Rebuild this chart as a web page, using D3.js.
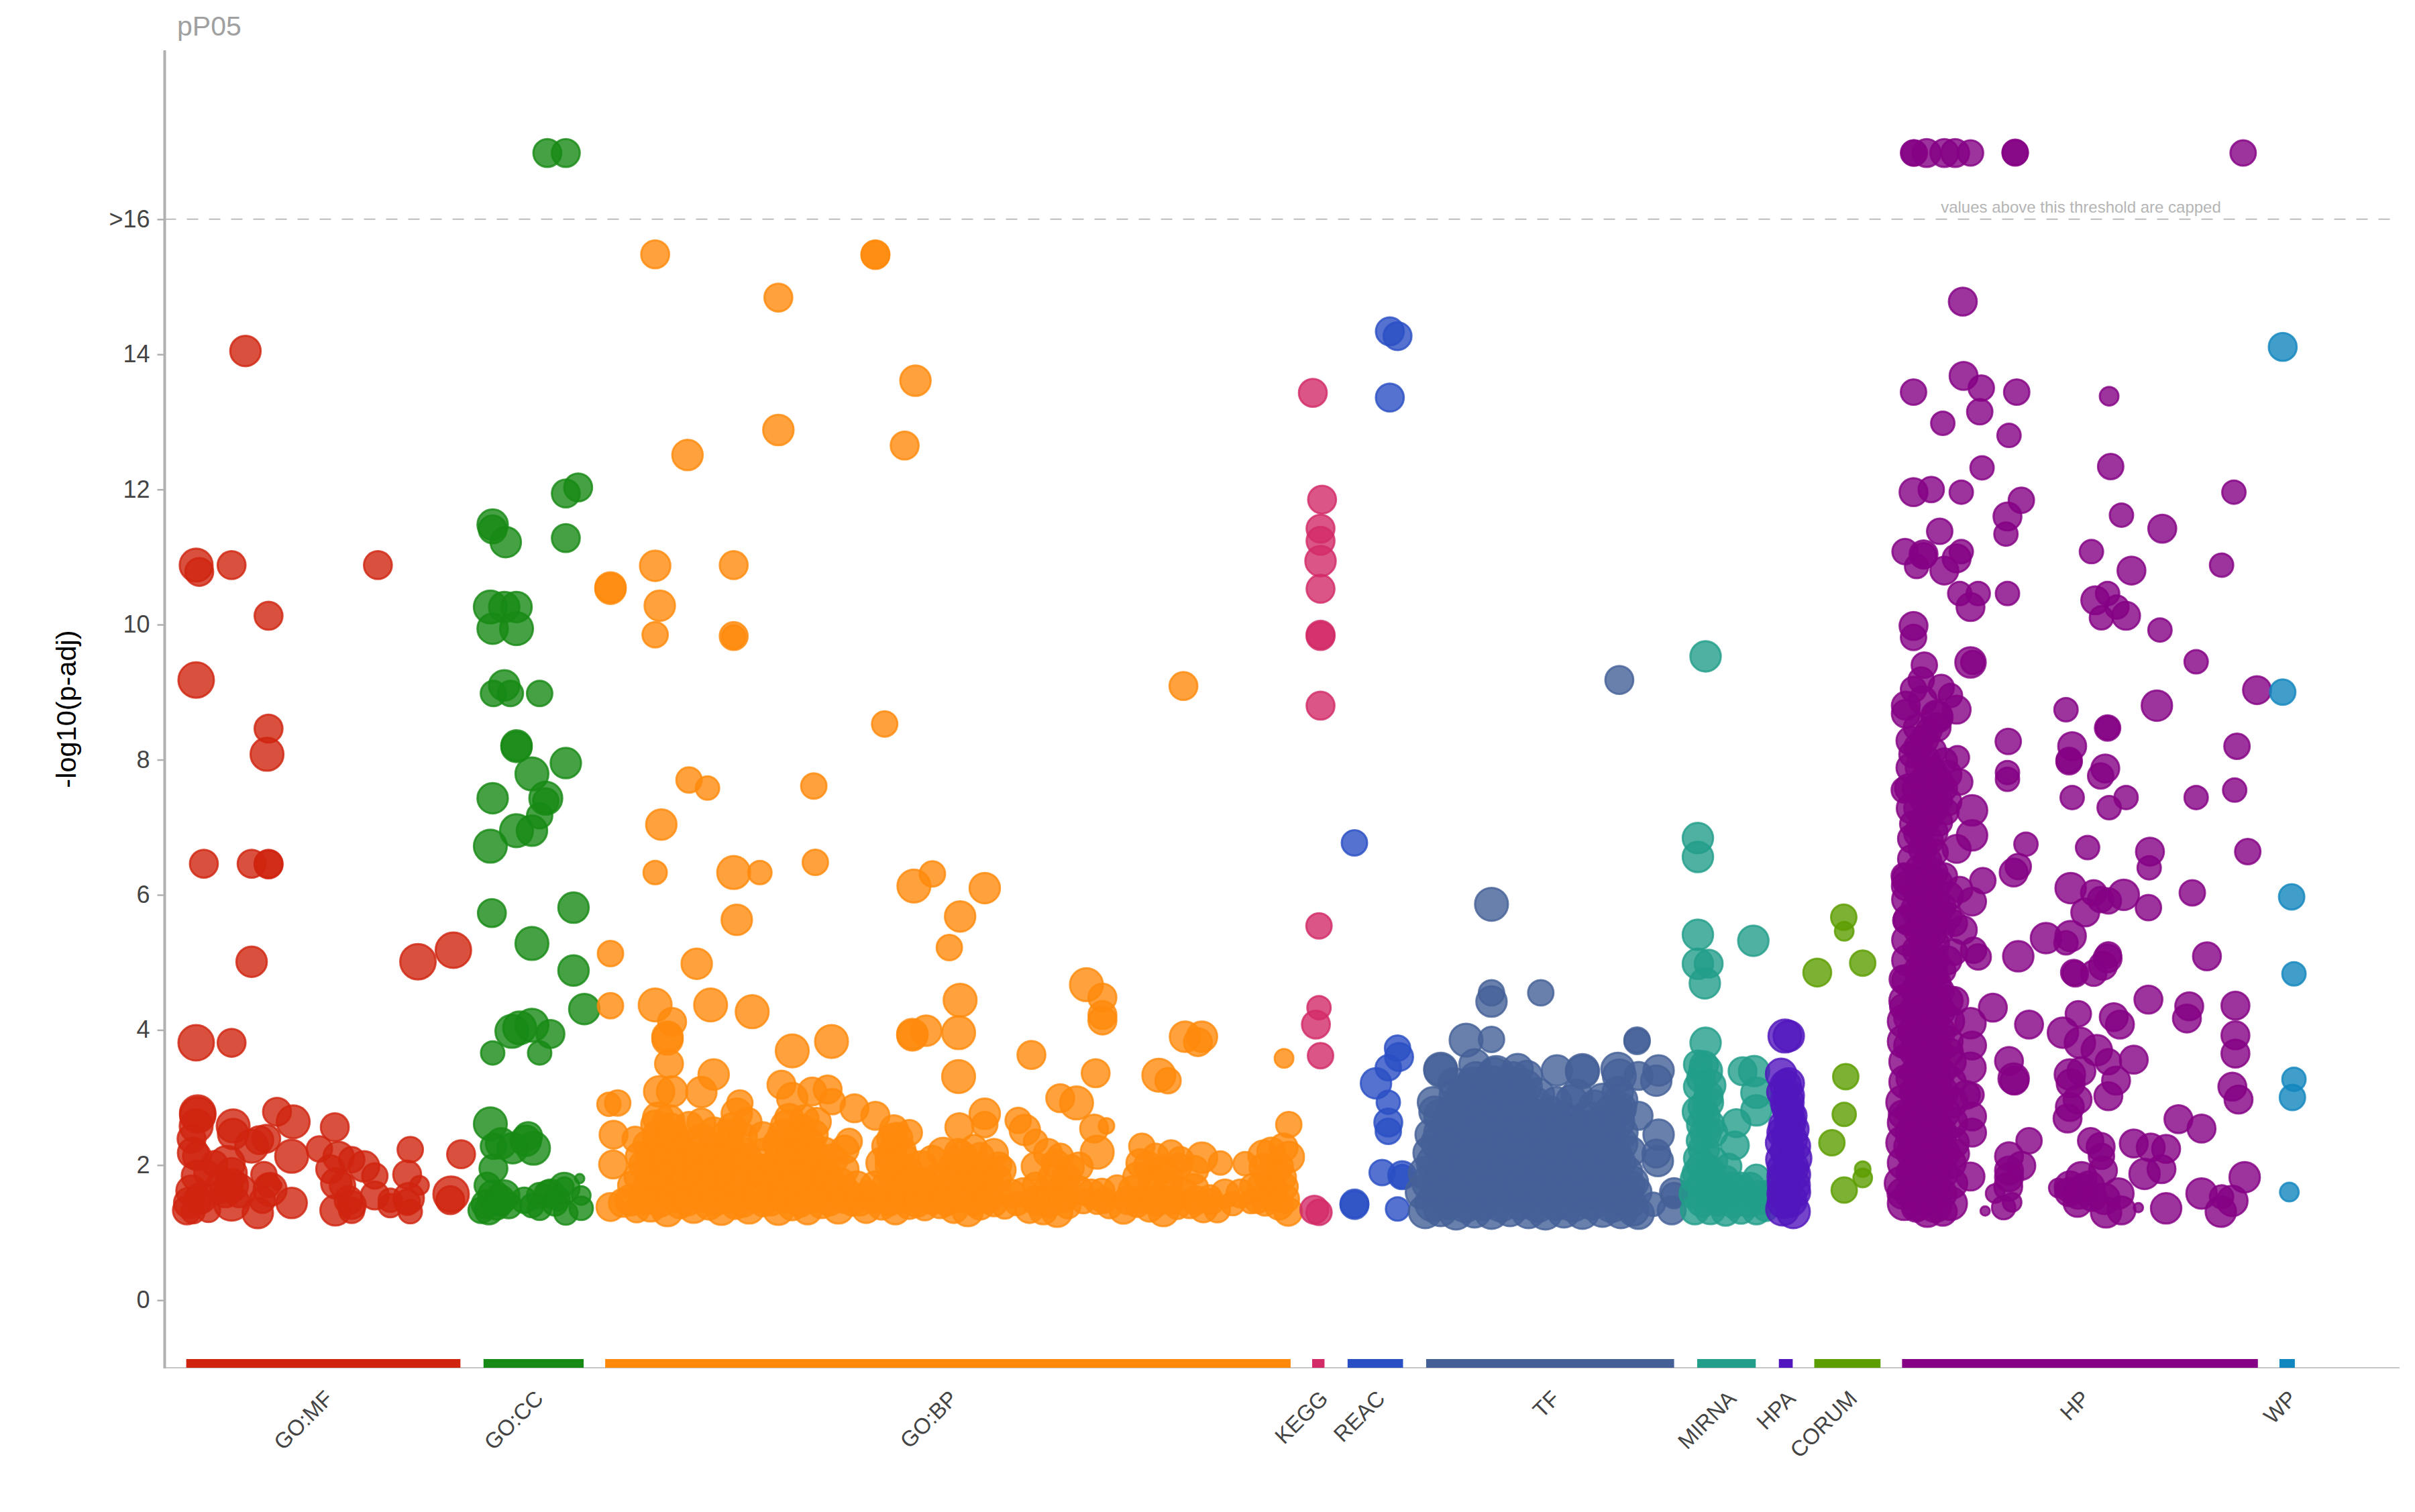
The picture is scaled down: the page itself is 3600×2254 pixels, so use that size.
<!DOCTYPE html>
<html><head><meta charset="utf-8">
<script src="https://cdn.jsdelivr.net/npm/d3@7/dist/d3.min.js"></script>
<style>html,body{margin:0;padding:0;background:#fff}svg{display:block}text{font-family:"Liberation Sans",Arial,sans-serif}</style>
</head><body><svg id="chart" width="3600" height="2254"></svg>
<script>
// each term: [order on x axis, -log10(p-adj), term size class]
const goMf=[[127,10.9,7],[129,10.8,5],[150,10.9,5],[245,10.9,5],[174,10.15,5],[159,14.07,6],[127,9.2,8],[174,8.48,5],[173,8.1,7],[132,6.48,5],[163,6.48,5],[174,6.48,5],[174,6.47,5],[163,5.03,6],[271,5.03,8],[294,5.2,8],[127,3.83,8],[150,3.83,5],
[128,2.79,8],[128,2.76,8],[127,2.6,7],[124,2.41,5],[125,2.2,6],[127.5,2.15,5],[151,2.6,7],[151,2.48,6],[168,2.39,5],[163,2.3,7],[172.5,2.41,5],[179.5,2.81,5],[190,2.66,7],[189,2.15,7],[217,2.58,5],[207,2.26,4],[219.5,2.14,6],[228,2.1,4],[236,2,6],[214,1.96,5],[243,1.86,4],[266,2.25,4],[299,2.18,5],[264,1.88,5],[272,1.72,2],[147,2.04,8],[139,2.04,4],[127.5,1.86,6],[134,1.9,4],[150,1.9,6],[171,1.88,4],[218,1.75,6],[124,1.64,6],[150,1.72,7],[142.5,1.68,6],[155,1.64,7],[175,1.66,7],[179.5,1.72,-1],[174,1.72,3],[243,1.57,5],[226,1.5,5],[253,1.5,3],[265,1.53,6],[292.5,1.59,8],[292,1.5,5],[189,1.46,6],[170,1.5,4],[150,1.46,8],[130,1.53,6],[122.5,1.46,6],[135,1.35,3],[121,1.35,5],[125,1.33,3],[167,1.31,6],[217.5,1.35,6],[228,1.35,4],[266,1.33,3],[253,1.42,3],[228,1.43,5],[264,1.47,4],[148,1.7,5],[146,1.62,6],[128,1.5,5],[222,1.72,4]];
const goCc=[[355,17,5],[367,17,5],[375,12.05,5],[367,11.96,5],[319.5,11.5,6],[319.5,11.43,5],[328,11.24,6],[367,11.3,5],[318,10.28,7],[327,10.28,6],[335,10.28,6],[319.5,9.96,6],[335,9.96,7],[327,9.12,6],[320,9,4],[331,9,4],[350,9,4],[335,8.23,6],[335,8.21,6],[345,7.81,7],[367,7.97,6],[354,7.45,7],[354,7.41,4],[319.5,7.45,6],[350,7.19,4],[335,6.97,7],[345,6.97,6],[318,6.74,7],[319,5.75,5],[372,5.83,6],[345,5.3,7],[372,4.9,6],[379,4.33,6],[332,4,7],[337,4.05,7],[345,4.09,7],[357,3.96,5],[319.5,3.68,3],[350,3.68,3],
[318,2.63,7],[342.5,2.45,5],[325,2.34,6],[320,2.3,4],[332.5,2.27,6],[341,2.38,6],[346,2.27,7],[320,1.97,5],[316,1.72,4],[320,1.57,6],[327,1.57,6],[366,1.68,6],[376,1.82,-1],[357,1.6,5],[350,1.57,4],[340,1.5,4],[312,1.35,4],[317,1.35,5],[322,1.42,5],[330,1.42,4],[345,1.42,3],[350,1.38,3],[360,1.46,4],[367,1.31,3],[377,1.38,3],[377,1.57,2],[366,1.7,2],[315,1.44,5],[324,1.5,6],[355,1.6,4],[362,1.52,3]];
const goBp=[[425,15.5,5],[505,14.86,5],[568,15.5,5],[568,15.49,5],[594,13.63,6],[505,12.9,6],[587,12.67,5],[446,12.53,6],[396,10.57,6],[396,10.55,6],[425,10.89,6],[428,10.3,6],[476,10.9,5],[425,9.87,4],[476,9.85,5],[476,9.84,3],[768,9.11,5],[574,8.55,4],[447,7.72,4],[459,7.6,3],[528,7.63,4],[429,7.06,6],[425,6.35,3],[493,6.35,3],[476,6.35,7],[529,6.5,4],[478,5.65,6],[593,6.15,7],[605,6.33,4],[639,6.12,6],[623,5.7,6],[616,5.24,4],[396,5.15,4],[452,5,6],
[396,4.38,4],[425,4.39,7],[436,4.14,5],[433,3.92,6],[433,3.88,6],[434,3.52,5],[461,4.39,7],[488,4.29,7],[514,3.71,7],[539.5,3.85,7],[592,3.94,6],[592,3.96,6],[601,4.01,6],[622,3.98,7],[623,4.46,7],[622,3.33,7],[669.3,3.65,5],[705,4.69,7],[715.4,4.5,5],[715.4,4.24,5],[715.4,4.16,5],[769,3.92,6],[780,3.92,6],[777.4,3.84,5],[833.3,3.6,2],[752,3.35,7],[758,3.27,4],[711,3.38,5],[688,3.01,5],[698.6,2.94,7],[463,3.36,6],[455,3.1,6],[427.6,3.11,6],[436,3.11,6],[507,3.21,5],[514,3.01,6],[527,3.11,5],[537,3.14,5],[540,2.96,4],[554.4,2.86,5],[568,2.75,5],[480,2.94,4],[395,2.92,3],[400.7,2.94,4],[398,2.47,5],[397.7,2.03,5],[579,2.4,6],[551,2.37,4],[639,2.78,6],[622.5,2.58,5],[639,2.62,4],[660.7,2.68,4],[665,2.54,6],[672,2.37,3],[710,2.56,5],[718,2.6,1],[712,2.21,7],[741,2.3,4],[780,2.13,6],[766,2.1,4],[836.4,2.62,4],[820,2.16,6],[836.4,2.14,6],[792,2.05,3],[808,2.04,3],
[396,1.4,5],[404,1.46,5],[413,1.36,4],[422,1.41,6],[433,1.34,6],[441,1.44,5],[450,1.39,6],[460,1.42,5],[468,1.36,6],[477,1.43,5],[486,1.38,6],[495,1.45,4],[505,1.36,6],[514,1.41,5],[524,1.35,5],[533,1.44,5],[544,1.38,6],[553,1.46,4],[562,1.37,5],[572,1.42,5],[581,1.35,5],[590,1.43,5],[600,1.39,4],[610,1.44,5],[619,1.37,5],[628,1.34,6],[636,1.42,5],[645,1.45,4],[652,1.4,3],[660,1.45,3],[668,1.37,5],[677,1.35,5],[686,1.33,6],[693,1.42,4],[703,1.48,3],[712,1.47,3],[720,1.42,4],[729,1.36,5],[738,1.44,4],[746,1.39,5],[755,1.34,6],[764,1.41,4],[772,1.44,5],[781,1.38,5],[790,1.36,4],[800,1.45,3],[812,1.48,3],[821,1.46,4],[830,1.42,5],[836,1.33,5],
[410,1.72,5],[420,1.66,6],[430,1.75,6],[440,1.68,6],[450,1.76,5],[460,1.7,6],[470,1.66,5],[480,1.74,6],[490,1.68,5],[500,1.73,5],[510,1.66,6],[520,1.74,6],[530,1.68,6],[540,1.75,5],[550,1.63,4],[563,1.6,4],[575,1.72,5],[585,1.65,6],[595,1.58,4],[605,1.68,4],[615,1.74,6],[625,1.67,6],[635,1.72,5],[645,1.64,5],[672,1.72,4],[680,1.66,5],[690,1.7,5],[715,1.63,4],[725,1.68,4],[748,1.64,5],[758,1.72,5],[768,1.62,5],[785,1.55,3],[818,1.72,4],[826,1.68,5],[834,1.7,4],
[418,2.02,6],[428,1.96,6],[438,2.05,6],[448,1.98,5],[458,2.03,6],[468,1.95,5],[478,2.05,5],[488,1.97,5],[503,2.02,6],[513,1.95,6],[523,2.04,6],[533,1.97,5],[548,1.96,5],[578,2.02,6],[588,1.95,6],[618,2,5],[628,2.06,5],[638,1.96,5],[648,2.02,4],[685,2.04,5],[695,1.98,4],[745,2.01,5],[755,1.96,5],[765,2,4],[820,1.98,5],[830,2,5],
[420,2.32,5],[430,2.26,6],[440,2.34,5],[450,2.24,5],[462,2.28,5],[472,2.34,6],[482,2.22,5],[505,2.33,6],[515,2.26,6],[525,2.35,6],[535,2.22,5],[575,2.3,5],[585,2.24,5],[622,2.2,5],[632,2.28,4],[688,2.15,4],[750,2.15,4],[760,2.2,4],[825,2.22,5],[833,2.28,5],
[425,2.62,5],[435,2.56,6],[475,2.58,5],[485,2.66,5],[510,2.6,6],[520,2.56,5],[530,2.66,5],[580,2.55,5],[590,2.5,4],
[409,1.5,6],[418,1.52,6],[428,1.48,6],[437,1.55,6],[446,1.5,6],[455,1.56,6],[464,1.5,6],[473,1.54,6],[482,1.48,6],[491,1.55,6],[500,1.5,6],[509,1.54,6],[519,1.48,6],[528,1.55,6],[538,1.5,6],[548,1.52,5],[558,1.48,5],[567,1.52,5],[577,1.5,6],[586,1.54,6],[595,1.46,5],[605,1.52,6],[614,1.5,6],[623,1.55,6],[632,1.5,6],[641,1.54,6],[672,1.5,5],[681,1.48,6],[690,1.53,5],[716,1.5,4],[732,1.5,5],[742,1.52,5],[751,1.5,6],[760,1.5,5],[776,1.5,5],[786,1.48,4],[816,1.5,4],[826,1.55,5],[834,1.52,5],
[415,1.85,6],[425,1.88,6],[435,1.84,7],[445,1.9,6],[455,1.85,7],[465,1.88,6],[475,1.84,7],[485,1.9,6],[495,1.85,5],[507,1.88,7],[517,1.84,7],[527,1.9,6],[537,1.85,6],[580,1.84,6],[590,1.82,5],[620,1.86,6],[630,1.84,6],[640,1.86,6],[647,1.82,5],[683,1.84,5],[692,1.84,5],[748,1.82,5],[758,1.84,5],[823,1.85,5],[832,1.84,5],
[423,2.15,7],[433,2.12,7],[443,2.18,7],[453,2.14,6],[465,2.12,6],[475,2.18,6],[485,2.12,5],[508,2.16,7],[518,2.12,7],[528,2.18,6],[578,2.14,6],[587,2.12,5],[624,2.14,6],[636,2.14,5],
[427,2.46,6],[437,2.44,6],[472,2.46,6],[482,2.44,5],[508,2.46,6],[518,2.44,6],[528,2.48,5],[582,2.42,6],[427,2.72,6],[434,2.68,6],[478,2.78,6],[512,2.72,5],[522,2.7,5],
[545,1.75,6],[556,1.7,6],[568,1.7,6],[598,1.75,6],[608,1.8,6],[598,2,6],[656,1.6,5],[664,1.62,5],[700,1.65,5],[708,1.6,5],[735,1.65,5],[738,1.85,5],[775,1.68,5],[795,1.6,5],[805,1.6,5],[813,1.7,4],[540,2.1,6],[548,2.25,5],[495,2.2,5],[495,1.95,6],[495,2.45,5],[455,2.4,6],[463,2.5,6],[447,2.6,5],[455,2.65,5],[612,2.2,6],[645,2.2,5],[650,1.95,5],[572,2.05,6],[605,2.1,5],[672,2,5],[680,2.2,5],[700,2,5],[740,2.05,5],[775,1.95,5],[415,2.15,5],[412,2.4,4]];
const kegg=[[852,13.45,5],[858,11.87,5],[857,11.44,5],[857,11.26,5],[857,10.96,6],[857,10.55,5],[857,9.87,5],[857,9.85,5],[857,8.82,5],[856,5.56,4],[856,4.35,3],[854,4.1,5],[857,3.64,4],[853,1.36,5],[856,1.32,4]];
const reac=[[902,14.36,5],[907,14.29,5],[902,13.38,5],[879,6.79,4],[907,3.75,4],[908,3.62,5],[901,3.46,4],[893,3.23,6],[901,2.95,3],[901,2.65,5],[901,2.52,4],[897,1.91,4],[910,1.87,5],[910,1.85,3],[879,1.45,5],[879,1.43,5],[907,1.37,3]];
const tf=[[1051,9.2,5],[968,5.88,7],[968,4.57,4],[968,4.44,6],[1000,4.57,4],[951.5,3.87,7],[968,3.88,4],[1062.5,3.87,4],[1062.5,3.85,4],[935,3.44,7],[935,3.42,7],[957,3.51,6],[985,3.44,6],[1010.5,3.42,6],[1027,3.42,7],[1027,3.4,7],[1050,3.44,7],[1051,3.34,7],[1076.5,3.42,6],[1075,3.27,6],[1063.5,3.34,5],[1023.5,3.06,6],[1006,2.81,6],[931,2.81,6],[943.5,3.23,6],[971,3.37,8],[991,3.34,6],[1051,2.81,6],[1063.5,2.75,5],[1076.5,2.47,6],[1031,2.6,6],[928.5,2.47,6],[1076,2.08,6],[1075,2.19,5],[1058.5,1.73,5],[1086.5,1.62,5],[1086.5,1.57,4],[1085,1.35,5],[1073,1.44,3],[1063.5,1.3,6],
[925,1.33,7],[935,1.36,7],[945,1.31,7],[957,1.34,7],[968,1.32,7],[980,1.36,7],[992,1.33,7],[1003,1.31,7],[1015,1.34,7],[1027,1.32,7],[1040,1.35,7],[1052,1.33,7],[1060,1.35,6],
[923,1.62,7],[933,1.6,7],[946,1.64,7],[958,1.6,7],[970,1.63,7],[982,1.6,7],[994,1.64,7],[1006,1.61,7],[1018,1.64,7],[1030,1.6,7],[1042,1.62,7],[1054,1.6,7],[1062,1.62,6],
[925,1.9,7],[936,1.94,7],[948,1.88,7],[960,1.92,7],[972,1.9,7],[984,1.94,7],[996,1.88,7],[1008,1.92,7],[1020,1.9,7],[1032,1.94,7],[1044,1.88,7],[1056,1.92,6],
[928,2.2,7],[940,2.24,7],[952,2.18,7],[964,2.22,7],[976,2.2,7],[988,2.24,7],[1000,2.18,7],[1012,2.22,7],[1024,2.2,7],[1036,2.24,7],[1048,2.18,7],[1058,2.22,6],
[935,2.5,7],[947,2.54,7],[959,2.48,7],[971,2.52,7],[983,2.5,7],[995,2.54,7],[1007,2.48,7],[1019,2.5,7],[1031,2.45,7],[1043,2.52,7],[1053,2.5,6],
[943,2.8,7],[955,2.84,7],[967,2.78,7],[979,2.82,7],[991,2.8,7],[1003,2.76,6],[1015,2.72,6],[1030,2.74,6],[1045,2.82,6],[1052,2.86,6],
[950,3.1,7],[962,3.14,7],[974,3.08,7],[986,3.12,7],[998,3.06,7],[1020,2.98,6],[1050,3.1,6],[958,3.3,7],[970,3.36,7],[982,3.3,7],
[930,1.45,8],[940,1.48,8],[951,1.44,8],[962,1.47,8],[974,1.45,8],[986,1.48,8],[998,1.44,8],[1010,1.47,8],[1021,1.45,8],[1033,1.48,8],[1046,1.44,8],[1057,1.47,7],
[928,1.76,8],[940,1.78,8],[952,1.74,8],[964,1.77,8],[976,1.75,8],[988,1.78,8],[1000,1.74,8],[1012,1.77,8],[1024,1.75,8],[1036,1.78,8],[1048,1.74,8],[1059,1.76,7],
[931,2.05,8],[942,2.08,8],[954,2.04,8],[966,2.07,8],[978,2.05,8],[990,2.08,8],[1002,2.04,8],[1014,2.07,8],[1026,2.05,8],[1038,2.08,8],[1050,2.04,8],
[934,2.35,8],[946,2.38,8],[958,2.34,8],[970,2.37,8],[982,2.35,8],[994,2.38,8],[1006,2.34,8],[1018,2.36,8],[1030,2.3,8],[1042,2.36,8],[1052,2.34,7],
[941,2.65,8],[953,2.68,8],[965,2.64,8],[977,2.67,8],[989,2.65,8],[1001,2.62,8],[1013,2.6,7],[1025,2.56,7],[1040,2.66,7],[1050,2.66,7],
[948,2.95,8],[960,2.98,8],[972,2.94,8],[984,2.97,8],[996,2.93,7],[1052,2.98,7],[956,3.2,8],[968,3.22,8],[980,3.2,8],[990,3.18,7],
[935,2.75,7],[930,2.95,6],[945,3.05,7],[1010,2.95,6],[1035,2.9,6],[1040,3,6]];
const mirna=[[1107,9.55,6],[1102,6.86,6],[1102,6.58,6],[1102,5.43,6],[1138,5.34,6],[1102,5,6],[1109,5,5],[1106.5,4.71,6],[1107,3.83,6],[1102,3.51,5],[1107,3.41,7],[1131,3.41,5],[1138.5,3.41,6],[1102,3.18,5],[1110,3.2,6],[1140,3.09,6],[1108.5,2.95,6],[1102,2.81,6],[1140,2.83,6],[1127,2.64,5],[1107,2.75,5],[1107,2.5,6],[1126,2.31,5],[1106,2.26,6],[1102,2.12,5],[1140,1.84,4],[1122,2,4],[1102,1.9,6],[1112,2.08,5],[1103,2.38,4],[1112,2.5,5],
[1100,1.35,5],[1110,1.37,6],[1120,1.33,5],[1130,1.36,5],[1140,1.35,5],[1146,1.38,4],[1100,1.6,6],[1110,1.62,6],[1120,1.58,5],[1130,1.6,5],[1140,1.58,5],[1147,1.6,4],[1100,1.82,5],[1110,1.85,6],[1120,1.8,5],[1130,1.72,4],
[1105,1.48,6],[1115,1.5,6],[1125,1.47,6],[1135,1.48,6],[1143,1.5,5],[1105,1.72,6],[1115,1.74,5],[1125,1.7,5],[1136,1.7,5],[1105,2,6],[1110,1.95,5],[1104,2.62,5],[1110,2.62,5],[1105,2.88,5],[1109,3.05,5],[1104,3.3,5],[1106,3.5,5]];
const hpa=[[1158.5,3.93,7],[1161,3.93,6],[1156,3.37,6],[1161,3.23,6],[1160,2.95,7],[1163.5,2.75,5],[1156,3.1,5],[1158,2.6,6],[1164,2.55,6],[1156,2.35,6],[1165,2.3,6],[1157,2.1,7],[1165,2.12,7],[1157,1.85,6],[1165,1.88,6],[1157,1.6,6],[1165,1.62,6],[1157,1.37,7],[1164,1.33,7],[1162,1.5,7],[1161,2,6],[1160,2.45,6],[1161,2.8,6],
[1158,1.48,7],[1164,1.72,7],[1158,1.74,7],[1163,1.98,7],[1158,1.97,7],[1160,2.22,7],[1163,2.4,6],[1157,2.5,6],[1162,2.65,6],[1160,2.88,6],[1161,3.05,6],[1159,3.2,6]];
const corum=[[1196.7,5.69,4],[1197,5.48,2],[1179.5,4.87,5],[1209,5.01,4],[1198,3.33,4],[1197,2.77,3],[1189,2.35,4],[1209,1.96,1],[1209,1.83,2],[1197,1.65,4]];
const hp=[[1242,17,4],[1242.5,17,4],[1250.5,17,5],[1262,17,5],[1269,17,5],[1279,17,4],[1308,17,4],[1308,17.01,4],[1456,17,4],[1274,14.8,5],[1274.5,13.7,5],[1286,13.52,4],[1242,13.46,4],[1309,13.46,4],[1369,13.4,2],[1285,13.17,4],[1261,13,3],[1304,12.82,3],[1286.5,12.34,3],[1370,12.36,4],[1242,11.98,5],[1253.5,12.02,4],[1273,11.98,3],[1450,11.98,3],[1312,11.86,4],[1303,11.62,5],[1302,11.36,3],[1377,11.64,3],[1403.5,11.44,5],[1259,11.4,4],[1236.5,11.1,4],[1248.5,11.06,5],[1248.5,11.04,4],[1244,10.88,3],[1262,10.82,5],[1270,11,5],[1273,11.1,3],[1357.5,11.1,3],[1383.5,10.82,5],[1442,10.9,3],[1272,10.48,3],[1284,10.48,3],[1303,10.48,3],[1279,10.28,5],[1360,10.38,5],[1368,10.48,3],[1374,10.28,3],[1364,10.12,3],[1380,10.15,5],[1402,9.94,3],[1242,10,5],[1242,9.83,4],[1425.5,9.47,3],[1279,9.46,6],[1280.5,9.46,3],[1249,9.42,4],[1465,9.05,5],[1400,8.82,6],[1341,8.76,3],[1368,8.49,3],[1247,9.2,4],[1242,9.06,4],[1260,9.09,4],[1266,8.97,3],[1237,8.82,5],[1237,8.7,5],[1270,8.76,5],[1257,8.67,6],[1257.5,8.65,6],[1257,8.5,5],
[1452,8.22,4],[1303.5,8.29,4],[1345,8.22,5],[1368,8.49,4],[1343,7.99,4],[1343,8.01,4],[1366.5,7.89,5],[1363.5,7.78,4],[1303,7.83,3],[1303,7.73,3],[1345,7.46,3],[1380,7.46,3],[1369,7.31,3],[1425.5,7.46,3],[1450.5,7.57,3],[1315,6.77,3],[1355,6.72,3],[1395.5,6.66,5],[1395,6.42,3],[1459,6.66,4],[1310,6.44,4],[1307,6.35,5],[1344,6.12,6],[1359,6.05,4],[1368.5,5.93,4],[1363.5,5.95,4],[1378.5,6.02,6],[1353.5,5.76,5],[1394.5,5.83,4],[1423,6.05,4],[1328,5.38,6],[1344,5.41,6],[1341,5.31,3],[1310,5.11,6],[1432.5,5.11,5],[1368,5.08,5],[1368.5,5.13,4],[1365,4.97,5],[1347,4.85,4],[1346,4.87,4],[1359,4.86,4],[1394.5,4.47,5],[1421,4.37,5],[1419.5,4.19,5],[1451,4.38,5],[1451,3.94,5],[1451,3.67,5],[1293.5,4.35,5],[1317,4.1,5],[1349,4.26,4],[1372,4.21,5],[1376,4.1,5],[1339,3.98,6],[1350,3.83,6],[1361,3.72,6],[1385,3.58,5],[1368.5,3.55,4],[1304,3.56,5],[1307,3.3,6],[1307.5,3.27,5],[1343.5,3.36,6],[1351,3.41,5],[1373.5,3.27,5],[1344,3.23,5],[1368.5,3.04,5],[1449,3.18,5],[1453,2.99,5],[1348.5,2.99,5],[1343.5,2.88,5],[1342,2.71,5],[1414,2.7,5],[1429,2.56,5],[1385,2.34,5],[1396,2.28,5],[1406,2.26,5],[1357,2.38,4],[1363.5,2.29,5],[1364,2.15,4],[1317,2.38,4],[1304,2.15,5],[1312,2.01,5],[1365,1.94,5],[1392,1.89,6],[1403,1.96,5],[1457,1.84,6],[1429,1.6,6],[1449,1.49,6],[1442,1.55,3],[1441.5,1.33,6],[1406,1.38,6],[1351,1.84,6],[1343.5,1.7,6],[1336,1.68,2],[1348.5,1.46,5],[1356,1.7,6],[1366,1.52,6],[1375,1.6,6],[1377,1.35,5],[1367,1.32,6],[1388,1.39,-1],[1288.5,1.34,-1],[1300.5,1.39,3],[1306,1.47,2],[1295,1.6,2],[1303.5,1.7,5],[1304,1.84,5],[1304,1.94,5],[1349,1.6,6],[1358,1.55,5],[1343,1.62,5],[1352,1.68,5],
[1279,1.85,5],[1269,2.19,5],[1280,2.5,5],[1280,2.74,5],[1279,3.46,6],[1280,3.79,5],[1279,4.12,6],[1268.5,4.45,5],[1265,3.69,5],[1276,3.06,5],[1280,3.06,3],[1284,5.1,4],[1281,5.2,4],[1268.5,5.17,4],[1274,5.5,5],[1268.5,5.6,4],[1280,5.92,5],[1287,6.23,4],[1272,6.1,4],[1270,6.7,5],[1280,6.9,6],[1280,7.27,6],[1272,7.69,4],[1270.5,8.05,3],[1236,7.57,4],[1241,8.1,4],[1241.5,7.07,4],[1245,6.93,5],[1236,6.3,4],[1237,6.15,5],[1237,5.64,4],[1235.5,4.77,5],[1235,4.36,4],[1238.5,4.2,5],[1238.5,3.79,5],[1240,3.3,5],[1235,2.77,5],[1238.5,2.29,5],[1240,1.91,5],[1235,1.6,6],[1243.5,1.39,5],[1251,1.33,6],[1261,1.33,5],
[1240,1.6,6],[1250,1.55,6],[1260,1.6,6],[1242,1.9,6],[1252,1.85,6],[1261,1.9,6],[1241,2.2,6],[1251,2.15,6],[1262,2.2,6],[1240,2.5,6],[1250,2.45,6],[1260,2.5,6],[1241,2.8,6],[1251,2.75,6],[1262,2.8,6],[1243,3.1,6],[1252,3.05,6],[1261,3.1,6],[1244,3.4,6],[1253,3.35,6],[1260,3.4,5],[1243,3.7,6],[1252,3.65,6],[1258,3.7,5],[1242,4,6],[1251,3.95,6],[1259,4,6],[1243,4.3,6],[1252,4.25,6],[1260,4.3,5],[1244,4.6,6],[1252,4.55,6],[1259,4.6,5],[1245,4.9,5],[1254,4.85,6],[1261,4.9,4],[1244,5.2,5],[1253,5.15,5],[1245,5.5,5],[1254,5.45,5],[1260,5.5,4],[1243,5.8,5],[1252,5.75,5],[1260,5.85,5],[1244,6.1,5],[1253,6.05,5],[1246,6.4,5],[1255,6.35,5],[1262,6.3,4],[1248,6.7,5],[1256,6.65,4],[1247,7,5],[1255,6.95,5],[1245,7.3,5],[1254,7.25,5],[1263,7.25,4],[1244,7.6,5],[1253,7.55,5],[1262,7.6,4],[1246,7.9,5],[1254,7.85,5],[1262,8,4],[1245,8.2,5],[1254,8.15,5],[1244,8.5,4],[1252,8.45,4],[1248,8.9,5],
[1245,1.45,7],[1256,1.42,7],[1245,1.74,7],[1255,1.72,7],[1246,2.02,7],[1256,2,7],[1246,2.32,7],[1256,2.3,7],[1245,2.62,7],[1256,2.6,7],[1247,2.92,7],[1257,2.95,7],[1247,3.22,7],[1256,3.25,7],[1248,3.52,7],[1256,3.5,6],[1247,3.82,7],[1255,3.84,6],[1247,4.12,7],[1255,4.15,6],[1248,4.42,7],[1256,4.45,6],[1249,4.72,6],[1256,4.72,6],[1249,5.02,6],[1256,5.05,5],[1249,5.32,6],[1256,5.3,5],[1249,5.62,6],[1257,5.65,5],[1248,5.92,6],[1256,5.92,5],[1250,6.22,6],[1258,6.2,5],[1251,6.52,5],[1252,6.82,5],[1250,7.12,5],[1258,7.1,5],[1249,7.42,5],[1258,7.42,5],[1249,7.72,5],[1258,7.72,5],[1250,8.02,5],[1249,8.32,5],
[1236,1.45,7],[1266,1.45,7],[1234,1.75,7],[1267,1.75,6],[1236,2.05,7],[1266,2.05,6],[1235,2.35,7],[1268,2.35,6],[1236,2.65,7],[1267,2.65,6],[1235,2.95,7],[1267,2.95,6],[1237,3.25,7],[1266,3.25,6],[1237,3.55,7],[1266,3.55,6],[1236,3.85,7],[1264,3.85,6],[1236,4.15,7],[1265,4.15,6],[1237,4.45,7],[1264,4.45,6],[1238,4.75,6],[1238,5.05,6],[1264,5.05,5],[1238,5.35,6],[1239,5.65,6],[1264,5.7,5],[1238,5.95,6],[1265,6,5],[1238,6.25,6],[1241,6.55,5],[1241,6.85,5],[1241,7.3,6],[1239,7.6,5],[1240,7.9,5],[1240,8.3,5],[1264,7.4,5],[1264,7.8,5]];
const wp=[[1481.7,14.13,5],[1481.7,9.02,4],[1487.5,5.99,4],[1489,4.85,3],[1489,3.29,3],[1488,3.02,4],[1486,1.62,2]];

const sourceNames=["GO:MF","GO:CC","GO:BP","KEGG","REAC","TF","MIRNA","HPA","CORUM","HP","WP"];
const sourceTerms=[goMf,goCc,goBp,kegg,reac,tf,mirna,hpa,corum,hp,wp];
const sourceStart=[121,314,393,852,875,926,1102,1155,1178,1235,1480];
const sourceEnd=[299,379,838,860,911,1087,1140,1164,1221,1466,1490];
const sourceColors=["#d0240f","#168a14","#ff890b","#d22b68","#2a4fc4","#456097","#229e8a","#5116bd","#5c9e00","#850085","#1286be"];
const yTicks=[0,2,4,6,8,10,12,14,16];
const capThreshold=16;

const svg=d3.select("#chart");
const x=d3.scaleLinear().domain([107,1558]).range([245.5,3577]);
const y=d3.scaleLinear().domain([-1,18.5]).range([2039,75]);
const r=d3.scaleLinear().domain([-1,2,3,4,8]).range([7,14,17.5,19,26.5]);

// threshold
svg.append("line").attr("x1",x.range()[0]).attr("x2",3565).attr("y1",y(capThreshold)).attr("y2",y(capThreshold))
  .attr("stroke","#bdbdbd").attr("stroke-width",2).attr("stroke-dasharray","17,16");
svg.append("text").attr("x",3102).attr("y",y(capThreshold)-10).attr("text-anchor","middle")
  .attr("font-size",24).attr("fill","#b5b5b5").text("values above this threshold are capped");

// points
sourceTerms.forEach((terms,i)=>{
  svg.append("g").attr("transform","translate(1,2)").selectAll("circle").data(terms).join("circle")
    .attr("cx",d=>x(d[0])).attr("cy",d=>y(d[1])).attr("r",d=>r(d[2]))
    .attr("fill",sourceColors[i]).attr("fill-opacity",.8)
    .attr("stroke",sourceColors[i]).attr("stroke-opacity",.8).attr("stroke-width",3);
});

// x axis
svg.append("line").attr("x1",x.range()[0]).attr("x2",x.range()[1]).attr("y1",2039).attr("y2",2039).attr("stroke","#c8c8c8").attr("stroke-width",2);
svg.append("g").selectAll("rect").data(sourceNames).join("rect")
  .attr("x",(d,i)=>x(sourceStart[i])).attr("width",(d,i)=>x(sourceEnd[i])-x(sourceStart[i]))
  .attr("y",2026).attr("height",13).attr("fill",(d,i)=>sourceColors[i]);
const centers=sourceNames.map((d,i)=>(sourceStart[i]+sourceEnd[i])/2);
const xAxis=d3.axisBottom(x).tickValues(centers).tickSize(0).tickFormat((d,i)=>sourceNames[i]);
const gx=svg.append("g").attr("transform","translate(0,2039)").call(xAxis);
gx.select(".domain").remove();
gx.selectAll(".tick text").attr("font-family",null).attr("font-size",33).attr("fill","#444")
  .attr("dy",null).attr("y",null).attr("text-anchor","end")
  .attr("transform","translate(16,48) rotate(-45)");

// y axis
const yAxis=d3.axisLeft(y).tickValues(yTicks).tickSize(11).tickPadding(11)
  .tickFormat(d=>d===capThreshold?">"+d:d);
const gy=svg.append("g").attr("transform","translate(245.5,0)").call(yAxis);
gy.select(".domain").attr("stroke","#b0b0b0").attr("stroke-width",4)
  .attr("d",`M0,${y.range()[1]}V${y.range()[0]+1}`);
gy.selectAll(".tick line").attr("stroke","#b0b0b0").attr("stroke-width",2.5);
gy.selectAll(".tick text").attr("font-family",null).attr("font-size",36).attr("fill","#444");

svg.append("text").attr("transform","translate(113,1057) rotate(-90)").attr("text-anchor","middle")
  .attr("font-size",41.5).attr("fill","#000").text("-log10(p-adj)");
svg.append("text").attr("x",264).attr("y",53).attr("font-size",41).attr("fill","#a0a0a0").text("pP05");
</script></body></html>
